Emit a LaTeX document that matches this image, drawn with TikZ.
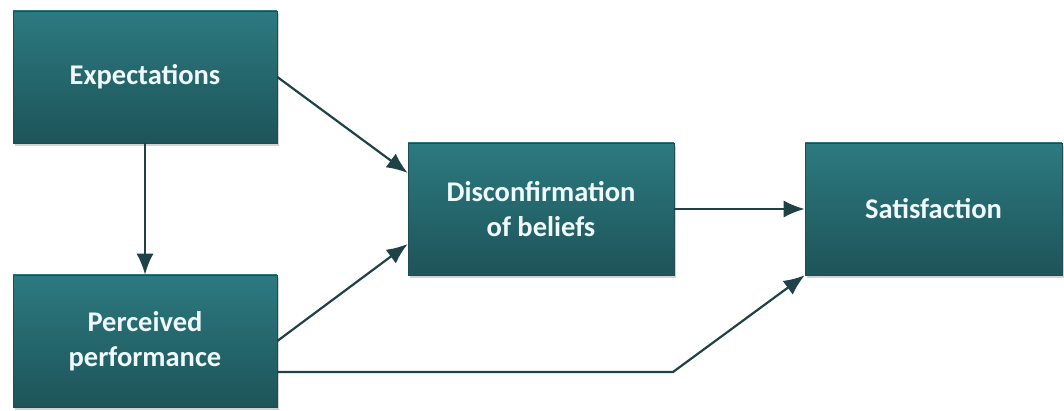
\documentclass[tikz,border=0pt]{standalone}
\usepackage{fontspec}
\setmainfont{Carlito}
\usetikzlibrary{arrows.meta,shadows,calc}
\definecolor{boxtop}{RGB}{44,122,128}
\definecolor{boxbot}{RGB}{29,84,89}
\definecolor{boxedge}{RGB}{30,78,82}
\definecolor{arrowcol}{RGB}{30,66,70}
\tikzset{
  modelbox/.style={rectangle,draw=boxedge,line width=0.6pt,top color=boxtop,bottom color=boxbot,
    minimum height=132pt,text=white!94!cyan,font=\fontsize{28.5}{35}\selectfont\bfseries,align=center,
    drop shadow={shadow xshift=2pt,shadow yshift=-3pt,opacity=0.35}},
  link/.style={draw=arrowcol,line width=2.2pt,-{Latex[length=21pt,width=17pt]}}
}
\begin{document}
\begin{tikzpicture}[x=1pt,y=1pt]
\useasboundingbox (0,0) rectangle (1064,411);
\node[modelbox,minimum width=264pt](exp) at(145,334){Expectations};
\node[modelbox,minimum width=264pt](perc) at(145,70){Perceived\\performance};
\node[modelbox,minimum width=266pt](disc) at(541,202){Disconfirmation\\of beliefs};
\node[modelbox,minimum width=257pt](sat) at(933.5,202){Satisfaction};
\coordinate (bend) at(673,39);
\draw[link](exp.south)--(perc.north);
\draw[link](exp.east)--($(disc.west)+(0,36)$);
\draw[link](perc.east)--($(disc.west)+(0,-35)$);
\draw[link](disc.east)--(sat.west);
\draw[link]($(perc.east)+(0,-31)$)--(bend)--(sat.south west);
\end{tikzpicture}
\end{document}
